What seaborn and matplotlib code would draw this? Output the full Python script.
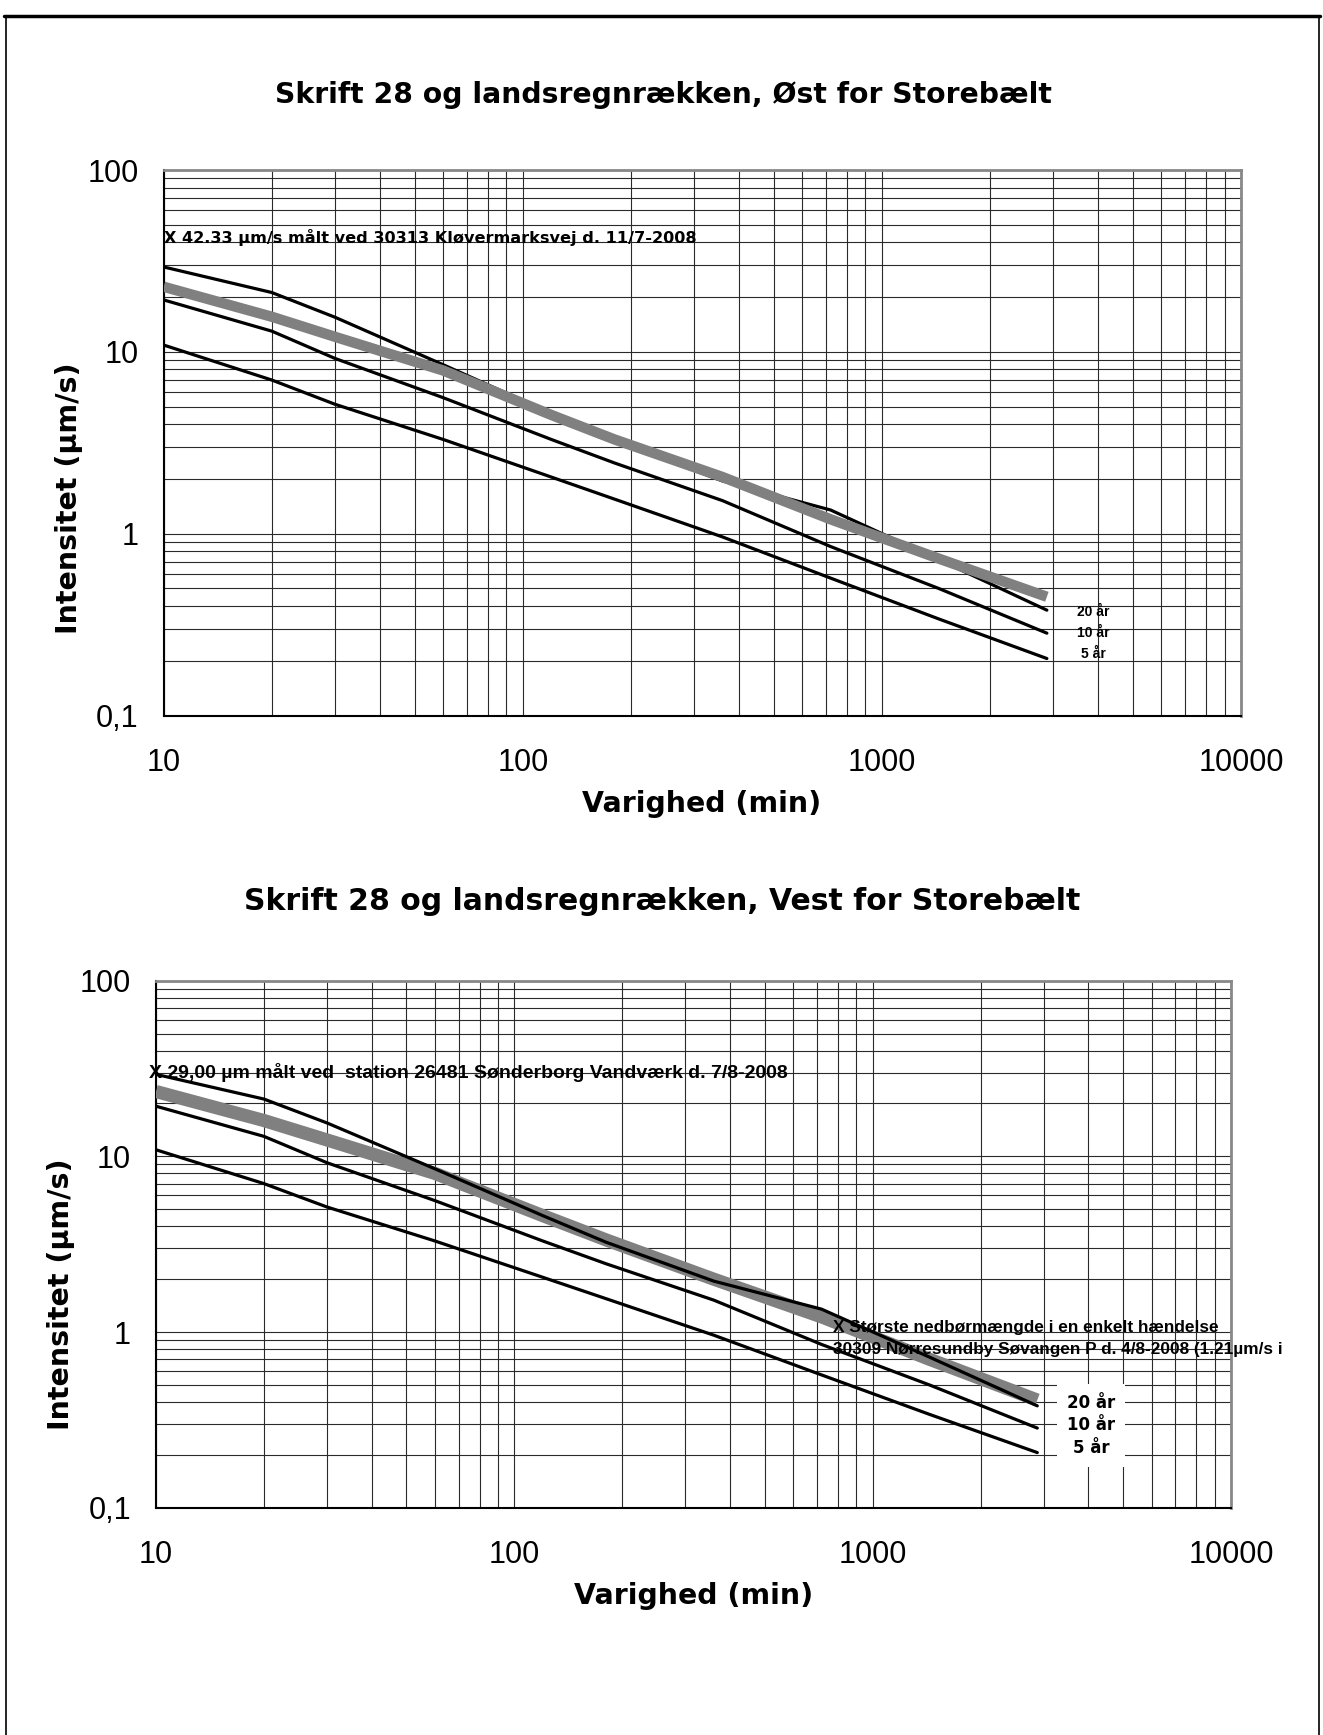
import numpy as np
import pandas as pd
import seaborn as sns
import matplotlib.pyplot as plt
from matplotlib.ticker import LogLocator, NullFormatter
from matplotlib.lines import Line2D

# varighed (min) og intensitet (µm/s)
varighed = [10, 20, 30, 60, 120, 180, 360, 720, 1440, 2880]
aar_20 = [29.3, 21.2, 15.5, 8.5, 4.6, 3.25, 1.95, 1.35, 0.72, 0.38]
aar_10 = [19.3, 13.0, 9.2, 5.6, 3.3, 2.45, 1.52, 0.85, 0.50, 0.284]
aar_5 = [10.9, 7.0, 5.15, 3.3, 2.05, 1.55, 0.96, 0.57, 0.34, 0.206]
lands_oest = [22.8, 15.6, 12.1, 7.9, 4.5, 3.3, 2.05, 1.2, 0.73, 0.45]
lands_vest = [23.4, 16.0, 12.4, 8.0, 4.6, 3.35, 2.0, 1.22, 0.70, 0.41]

y_ticks = [0.1, 1, 10, 100]
y_ticklabels = ["0,1", "1", "10", "100"]
x_ticks = [10, 100, 1000, 10000]
x_ticklabels = ["10", "100", "1000", "10000"]

W, H = 1323, 1735


def style_axes(ax):
    ax.set_xscale("log")
    ax.set_yscale("log")
    ax.set_xlim(10, 10000)
    ax.set_ylim(0.1, 100)
    ax.xaxis.set_minor_locator(LogLocator(base=10, subs=np.arange(2, 10)))
    ax.yaxis.set_minor_locator(LogLocator(base=10, subs=np.arange(2, 10)))
    ax.xaxis.set_minor_formatter(NullFormatter())
    ax.yaxis.set_minor_formatter(NullFormatter())
    ax.set_xticks(x_ticks, x_ticklabels)
    ax.set_yticks(y_ticks, y_ticklabels)
    ax.grid(True, which="both", color="#2a2a2a", linewidth=0.8)
    ax.set_axisbelow(True)
    for side in ["left", "bottom"]:
        ax.spines[side].set_color("black")
        ax.spines[side].set_linewidth(1.5)
    for side in ["top", "right"]:
        ax.spines[side].set_color("#888888")
        ax.spines[side].set_linewidth(2)
    ax.tick_params(which="major", direction="out", length=8, width=1, color="black",
                   labelcolor="black", labelsize=22, top=False, right=False)
    ax.tick_params(axis="y", which="major", pad=10)
    ax.tick_params(axis="x", which="major", pad=15)
    ax.tick_params(which="minor", length=0)
    for lab in ax.get_xticklabels() + ax.get_yticklabels():
        lab.set_fontfamily("Liberation Sans")
    ax.set_xlabel("")
    ax.set_ylabel("")


sns.set_theme(style="white")
plt.rcParams["font.family"] = ["DejaVu Sans"]
plt.rcParams["text.color"] = "black"

fig = plt.figure(figsize=(W / 100, H / 100), dpi=100)
fig.patch.set_facecolor("white")

# --- top chart: Øst for Storebælt
ax1 = fig.add_axes([163.7 / W, 1 - 715.6 / H, (1241 - 163.7) / W, (715.6 - 170) / H])
for serie in [aar_20, aar_10, aar_5]:
    sns.lineplot(x=varighed, y=serie, ax=ax1, color="black", linewidth=2.3, zorder=3)
sns.lineplot(x=varighed, y=lands_oest, ax=ax1, color="#808080", linewidth=7.5, zorder=4,
             solid_capstyle="butt")
style_axes(ax1)
ax1.text(10, 42.33, "X 42.33 µm/s målt ved 30313 Kløvermarksvej d. 11/7-2008",
         ha="left", va="center", fontsize=11.6, fontweight="bold", zorder=6)
for yv, lab in zip([0.373, 0.286, 0.219], ["20 år", "10 år", "5 år"]):
    ax1.text(3881, yv, lab, ha="center", va="center", fontsize=10, fontweight="bold",
             family="Liberation Sans", zorder=6)

# --- bottom chart: Vest for Storebælt
ax2 = fig.add_axes([156 / W, 1 - 1507.7 / H, (1231 - 156) / W, (1507.7 - 980.7) / H])
sns.lineplot(x=varighed, y=lands_vest, ax=ax2, color="#808080", linewidth=9.5, zorder=3,
             solid_capstyle="butt")
for serie in [aar_20, aar_10, aar_5]:
    sns.lineplot(x=varighed, y=serie, ax=ax2, color="black", linewidth=2.3, zorder=4)
style_axes(ax2)
ax2.annotate("X 29,00 µm målt ved  station 26481 Sønderborg Vandværk d. 7/8-2008",
             xy=(10, 30), xytext=(-5, 0), textcoords="offset points",
             ha="left", va="center", fontsize=14, fontweight="bold",
             family="Liberation Sans", zorder=6)
ax2.text(774, 1.06, "X Største nedbørmængde i en enkelt hændelse", ha="left", va="center",
         fontsize=12.4, fontweight="bold", family="Liberation Sans", zorder=6)
ax2.text(774, 0.80, "30309 Nørresundby Søvangen P d. 4/8-2008 (1.21µm/s i", ha="left",
         va="center", fontsize=12.4, fontweight="bold", family="Liberation Sans", zorder=6)
ax2.text(4074, 0.294, "20 år\n10 år\n5 år", ha="center", va="center", fontsize=12,
         fontweight="bold", linespacing=1.35, zorder=6,
         bbox=dict(boxstyle="square,pad=0.6", facecolor="white", edgecolor="none"))

# titles and axis labels
fig.text(663 / W, 1 - 95 / H, "Skrift 28 og landsregnrækken, Øst for Storebælt",
         ha="center", va="center", fontsize=20.3, fontweight="bold")
fig.text(662.5 / W, 1 - 901 / H, "Skrift 28 og landsregnrækken, Vest for Storebælt",
         ha="center", va="center", fontsize=21.5, fontweight="bold")
fig.text(702 / W, 1 - 804 / H, "Varighed (min)", ha="center", va="center",
         fontsize=20.4, fontweight="bold")
fig.text(693.5 / W, 1 - 1596 / H, "Varighed (min)", ha="center", va="center",
         fontsize=20.4, fontweight="bold")
fig.text(68.6 / W, 1 - 498 / H, "Intensitet (µm/s)", ha="center", va="center",
         rotation=90, fontsize=20.5, fontweight="bold")
fig.text(61 / W, 1 - 1294 / H, "Intensitet (µm/s)", ha="center", va="center",
         rotation=90, fontsize=20.5, fontweight="bold")

# page frame
ytop = 1 - 16 / H
fig.add_artist(Line2D([4 / W, 1320 / W], [ytop, ytop], color="black", lw=2.5,
                      transform=fig.transFigure))
fig.add_artist(Line2D([6 / W, 6 / W], [0, ytop], color="black", lw=1.2,
                      transform=fig.transFigure))
fig.add_artist(Line2D([1319 / W, 1319 / W], [0, ytop], color="black", lw=1.2,
                      transform=fig.transFigure))

fig.savefig("out.png", dpi=100)
